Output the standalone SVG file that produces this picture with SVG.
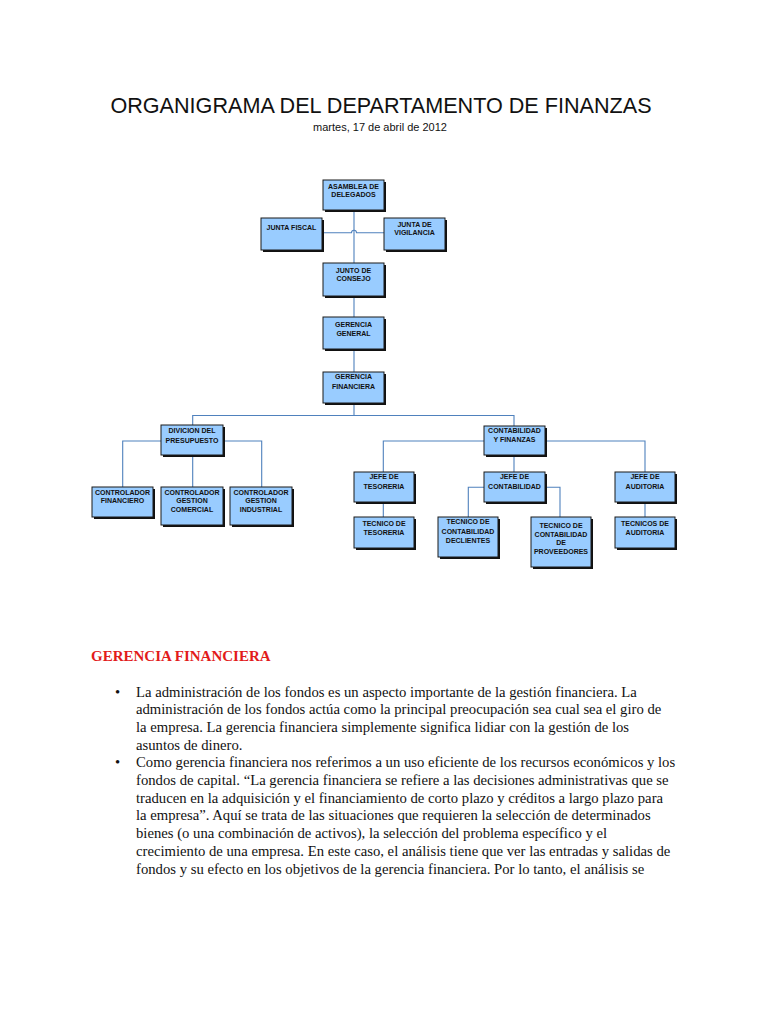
<svg xmlns="http://www.w3.org/2000/svg" width="768" height="1024" viewBox="0 0 768 1024">
<style>
.bx{fill:#99CCFF;stroke:#1a1a1a;stroke-width:1}
.sh{fill:#111}
.t{font-family:"Liberation Sans",Arial,sans-serif;font-size:7px;font-weight:bold;fill:#111;text-anchor:middle}
.c{fill:none;stroke:#4F81BD;stroke-width:1.1}
.body{font-family:"Liberation Serif","Times New Roman",serif;font-size:14.7px;fill:#111}
</style>
<rect width="768" height="1024" fill="#fff"/>
<text x="381" y="113" font-family="Liberation Sans,Arial,sans-serif" font-size="21.6" fill="#111" text-anchor="middle">ORGANIGRAMA DEL DEPARTAMENTO DE FINANZAS</text>
<text x="380" y="131" font-family="Liberation Sans,Arial,sans-serif" font-size="11" fill="#111" text-anchor="middle">martes, 17 de abril de 2012</text>

<g id="connectors">
<path class="c" d="M354 210V263M354 296V317M354 349V372M354 403V415.5"/>
<path class="c" d="M322 232.7H351.5A2.5 2.5 0 0 1 356.5 232.7H384"/>
<path class="c" d="M192.7 425V415.5H514V426"/>
<path class="c" d="M122.7 487V441H261.7V487M192.7 455V487"/>
<path class="c" d="M383.3 472V441H645V472M514 455V472"/>
<path class="c" d="M383.3 502V517M645 502V517"/>
<path class="c" d="M484 487.3H468.3V517M545 487.3H560V517"/>
</g>

<g id="asamblea"><rect class="sh" x="325" y="182" width="61" height="30"/><rect class="bx" x="323" y="180" width="61" height="30"/><text class="t" x="353.5" y="188.5">ASAMBLEA DE</text><text class="t" x="353.5" y="197">DELEGADOS</text></g>
<g id="junta-fiscal"><rect class="sh" x="263" y="220" width="61" height="32"/><rect class="bx" x="261" y="218" width="61" height="32"/><text class="t" x="291.5" y="230">JUNTA FISCAL</text></g>
<g id="junta-vigilancia"><rect class="sh" x="386" y="220" width="61" height="32"/><rect class="bx" x="384" y="218" width="61" height="32"/><text class="t" x="414.5" y="227">JUNTA DE</text><text class="t" x="414.5" y="235">VIGILANCIA</text></g>
<g id="junto-consejo"><rect class="sh" x="325" y="265" width="61" height="33"/><rect class="bx" x="323" y="263" width="61" height="33"/><text class="t" x="353.5" y="272.7">JUNTO DE</text><text class="t" x="353.5" y="281">CONSEJO</text></g>
<g id="gerencia-general"><rect class="sh" x="325" y="319" width="61" height="32"/><rect class="bx" x="323" y="317" width="61" height="32"/><text class="t" x="353.5" y="326.5">GERENCIA</text><text class="t" x="353.5" y="335.5">GENERAL</text></g>
<g id="gerencia-financiera"><rect class="sh" x="325" y="374" width="61" height="31"/><rect class="bx" x="323" y="372" width="61" height="31"/><text class="t" x="353.5" y="379">GERENCIA</text><text class="t" x="353.5" y="388.5">FINANCIERA</text></g>
<g id="divicion"><rect class="sh" x="163" y="427" width="62" height="30"/><rect class="bx" x="161" y="425" width="62" height="30"/><text class="t" x="192" y="433">DIVICION DEL</text><text class="t" x="192" y="442.5">PRESUPUESTO</text></g>
<g id="controlador-financiero"><rect class="sh" x="94" y="489" width="61" height="30"/><rect class="bx" x="92" y="487" width="61" height="30"/><text class="t" x="122.5" y="495">CONTROLADOR</text><text class="t" x="122.5" y="502.5">FINANCIERO</text></g>
<g id="controlador-comercial"><rect class="sh" x="163" y="489" width="62" height="38"/><rect class="bx" x="161" y="487" width="62" height="38"/><text class="t" x="192" y="495">CONTROLADOR</text><text class="t" x="192" y="503.2">GESTION</text><text class="t" x="192" y="511.5">COMERCIAL</text></g>
<g id="controlador-industrial"><rect class="sh" x="232" y="489" width="62" height="38"/><rect class="bx" x="230" y="487" width="62" height="38"/><text class="t" x="261" y="495">CONTROLADOR</text><text class="t" x="261" y="503.2">GESTION</text><text class="t" x="261" y="511.5">INDUSTRIAL</text></g>
<g id="contabilidad-finanzas"><rect class="sh" x="486" y="428" width="61" height="29"/><rect class="bx" x="484" y="426" width="61" height="29"/><text class="t" x="514.5" y="433">CONTABILIDAD</text><text class="t" x="514.5" y="441.8">Y FINANZAS</text></g>
<g id="jefe-tesoreria"><rect class="sh" x="356" y="474" width="60" height="30"/><rect class="bx" x="354" y="472" width="60" height="30"/><text class="t" x="384" y="479">JEFE DE</text><text class="t" x="384" y="488.5">TESORERIA</text></g>
<g id="jefe-contabilidad"><rect class="sh" x="486" y="474" width="61" height="30"/><rect class="bx" x="484" y="472" width="61" height="30"/><text class="t" x="514.5" y="479">JEFE DE</text><text class="t" x="514.5" y="488.5">CONTABILIDAD</text></g>
<g id="jefe-auditoria"><rect class="sh" x="617" y="474" width="60" height="30"/><rect class="bx" x="615" y="472" width="60" height="30"/><text class="t" x="645" y="479">JEFE DE</text><text class="t" x="645" y="488.5">AUDITORIA</text></g>
<g id="tecnico-tesoreria"><rect class="sh" x="356" y="519" width="60" height="31"/><rect class="bx" x="354" y="517" width="60" height="31"/><text class="t" x="384" y="525.7">TECNICO DE</text><text class="t" x="384" y="535">TESORERIA</text></g>
<g id="tecnico-clientes"><rect class="sh" x="440" y="519" width="60" height="40"/><rect class="bx" x="438" y="517" width="60" height="40"/><text class="t" x="468" y="524">TECNICO DE</text><text class="t" x="468" y="533.5">CONTABILIDAD</text><text class="t" x="468" y="543">DECLIENTES</text></g>
<g id="tecnico-proveedores"><rect class="sh" x="533" y="519" width="60" height="50"/><rect class="bx" x="531" y="517" width="60" height="50"/><text class="t" x="561" y="527.5">TECNICO DE</text><text class="t" x="561" y="536.5">CONTABILIDAD</text><text class="t" x="561" y="545">DE</text><text class="t" x="561" y="553.5">PROVEEDORES</text></g>
<g id="tecnicos-auditoria"><rect class="sh" x="617" y="519" width="60" height="31"/><rect class="bx" x="615" y="517" width="60" height="31"/><text class="t" x="645" y="525.7">TECNICOS DE</text><text class="t" x="645" y="535">AUDITORIA</text></g>

<text x="91" y="661" font-family="Liberation Serif,Times New Roman,serif" font-size="15" font-weight="bold" fill="#E21B1B">GERENCIA FINANCIERA</text>
<g class="body">
<text x="115" y="696.5">•</text>
<text x="136" y="696.5">La administración de los fondos es un aspecto importante de la gestión financiera. La</text>
<text x="136" y="714.2">administración de los fondos actúa como la principal preocupación sea cual sea el giro de</text>
<text x="136" y="731.9">la empresa. La gerencia financiera simplemente significa lidiar con la gestión de los</text>
<text x="136" y="749.6">asuntos de dinero.</text>
<text x="115" y="767.3">•</text>
<text x="136" y="767.3">Como gerencia financiera nos referimos a un uso eficiente de los recursos económicos y los</text>
<text x="136" y="785">fondos de capital. “La gerencia financiera se refiere a las decisiones administrativas que se</text>
<text x="136" y="802.7">traducen en la adquisición y el financiamiento de corto plazo y créditos a largo plazo para</text>
<text x="136" y="820.4">la empresa”. Aquí se trata de las situaciones que requieren la selección de determinados</text>
<text x="136" y="838.1">bienes (o una combinación de activos), la selección del problema específico y el</text>
<text x="136" y="855.8">crecimiento de una empresa. En este caso, el análisis tiene que ver las entradas y salidas de</text>
<text x="136" y="873.5">fondos y su efecto en los objetivos de la gerencia financiera. Por lo tanto, el análisis se</text>
</g>
</svg>
